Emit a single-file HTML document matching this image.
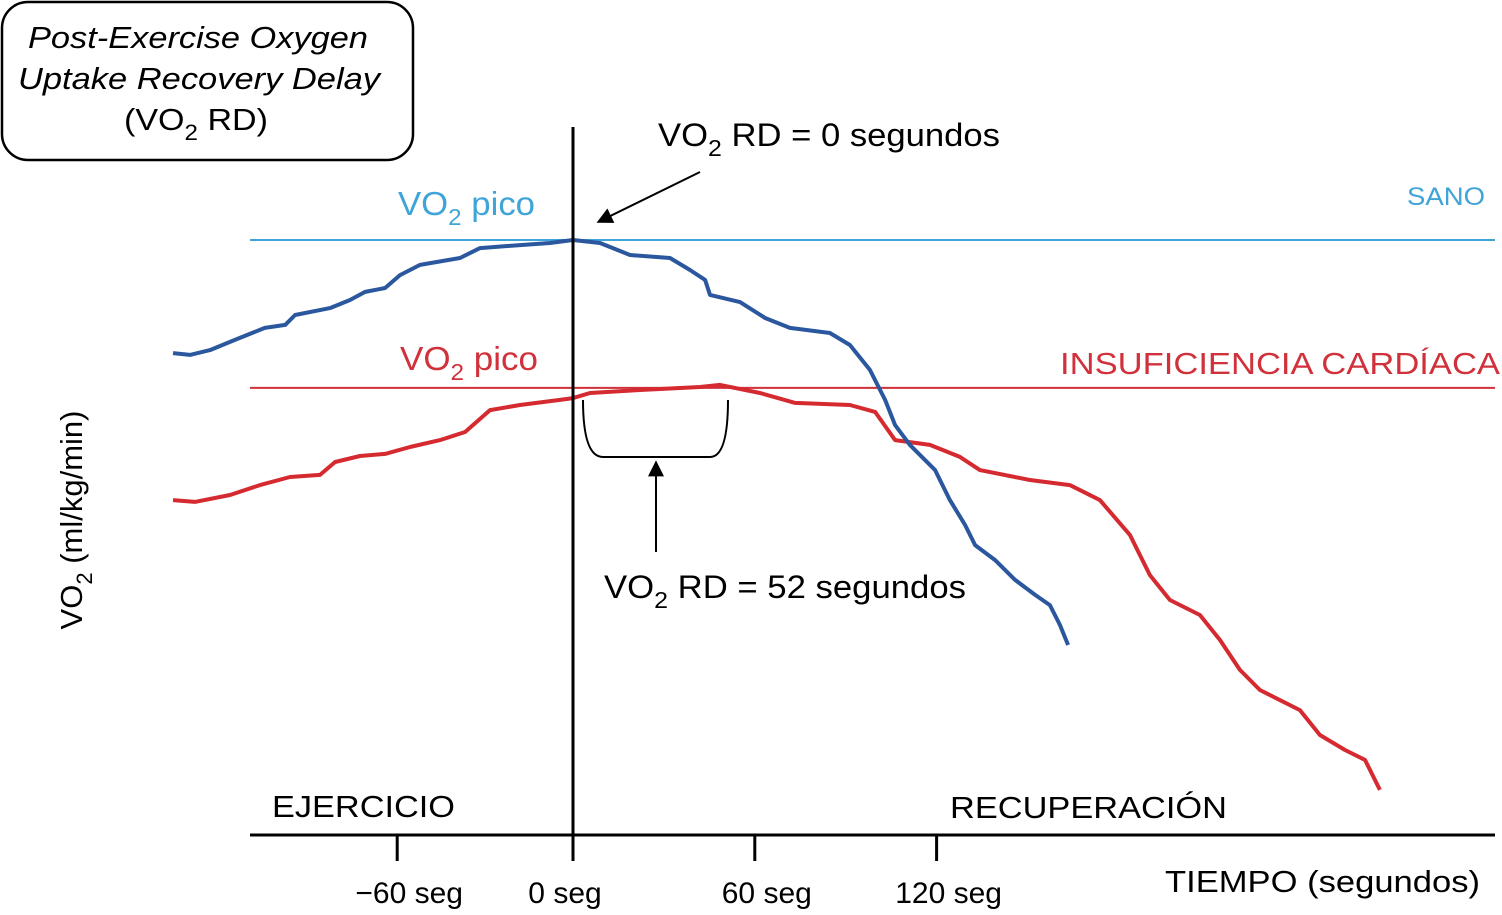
<!DOCTYPE html>
<html><head><meta charset="utf-8"><style>
html,body{margin:0;padding:0;background:#fff;}
svg{display:block;font-family:"Liberation Sans",Arial,sans-serif;}
</style></head><body>
<svg id="chart" width="1502" height="915" viewBox="0 0 1502 915">
<defs><marker id="ah" viewBox="0 0 10 10" refX="9" refY="5" markerWidth="8" markerHeight="8" orient="auto"><path d="M0,0L10,5L0,10z" fill="#000"/></marker></defs>
<g>
<rect x="2" y="2" width="411" height="158" rx="26" fill="#fff" stroke="#000" stroke-width="2.5"/>
<text x="28" y="48" font-size="31" font-style="italic" textLength="340" lengthAdjust="spacingAndGlyphs">Post-Exercise Oxygen</text>
<text x="18" y="89" font-size="31" font-style="italic" textLength="362" lengthAdjust="spacingAndGlyphs">Uptake Recovery Delay</text>
<text x="124" y="130" font-size="31" textLength="144" lengthAdjust="spacingAndGlyphs">(VO<tspan font-size="22" dy="10">2</tspan><tspan dy="-10"> RD)</tspan></text>
</g>
<g id="plot"></g>
<text transform="translate(82,520) rotate(-90)" font-size="31" text-anchor="middle">VO<tspan font-size="22" dy="10">2</tspan><tspan dy="-10"> (ml/kg/min)</tspan></text>
<text x="1165" y="892" font-size="31" textLength="315" lengthAdjust="spacingAndGlyphs">TIEMPO (segundos)</text>
<text x="272" y="817" font-size="31" textLength="183" lengthAdjust="spacingAndGlyphs">EJERCICIO</text>
<text x="950" y="818" font-size="31" textLength="277" lengthAdjust="spacingAndGlyphs">RECUPERACIÓN</text>
<text x="1407" y="205" font-size="25" fill="#3fa4d8" textLength="78" lengthAdjust="spacingAndGlyphs">SANO</text>
<text x="1060" y="374" font-size="31" fill="#d0313a" textLength="440" lengthAdjust="spacingAndGlyphs">INSUFICIENCIA CARDÍACA</text>
<text x="398" y="215" font-size="33" fill="#3fa4d8" textLength="137" lengthAdjust="spacingAndGlyphs">VO<tspan font-size="23" dy="10">2</tspan><tspan dy="-10"> pico</tspan></text>
<text x="400" y="370" font-size="33" fill="#d0313a" textLength="138" lengthAdjust="spacingAndGlyphs">VO<tspan font-size="23" dy="10">2</tspan><tspan dy="-10"> pico</tspan></text>
<text x="658" y="146" font-size="32" textLength="342" lengthAdjust="spacingAndGlyphs">VO<tspan font-size="23" dy="10">2</tspan><tspan dy="-10"> RD = 0 segundos</tspan></text>
<text x="604" y="598" font-size="32" textLength="362" lengthAdjust="spacingAndGlyphs">VO<tspan font-size="23" dy="10">2</tspan><tspan dy="-10"> RD = 52 segundos</tspan></text>
<line x1="700" y1="172" x2="598" y2="222" stroke="#000" stroke-width="2" marker-end="url(#ah)"/>
<line x1="656" y1="552" x2="656" y2="462" stroke="#000" stroke-width="2" marker-end="url(#ah)"/>
<path d="M583,400 Q583,457 603,457 L710,457 Q728,457 728,400" fill="none" stroke="#000" stroke-width="2"/>
</svg>
<script>
const ticks = [-60, 0, 60, 120];
const tickLabels = ["\u221260 seg", "0 seg", "60 seg", "120 seg"];
const blueT = [-132,-126.4,-119.8,-111.6,-101.7,-95,-91.7,-80.2,-73.6,-68.6,-62,-57.1,-50.5,-37.3,-30.7,-17.5,-7.6,0,8.9,18.8,32,38.6,43.6,45.2,55.1,63.4,71.6,84.8,91.4,98,103,106.3,111.2,119.5,124.4,129.4,132.7,139.3,145.9,152.5,157.4,160.7,163.4];
const blueV = [16.23,16.17,16.33,16.67,17.07,17.17,17.5,17.73,18,18.27,18.4,18.83,19.17,19.4,19.73,19.83,19.9,20,19.9,19.5,19.4,19,18.67,18.17,17.93,17.4,17.07,16.9,16.5,15.67,14.67,13.83,13.17,12.33,11.33,10.5,9.83,9.33,8.67,8.17,7.83,7.17,6.5];
const redT = [-132,-124.8,-113.2,-103.3,-93.4,-83.5,-78.5,-70.3,-62,-53.8,-43.9,-35.6,-27.4,-17.5,-4.3,0,5.6,22.1,41.9,48.5,61.7,73.3,91.4,99.7,106.3,117.8,127.7,134.3,150.8,164,173.9,183.8,190.4,197,206.9,213.5,220.1,226.7,239.9,246.5,254.8,261.4,266.3];
const redV = [11.33,11.27,11.5,11.83,12.1,12.17,12.6,12.8,12.87,13.1,13.33,13.6,14.33,14.5,14.67,14.73,14.9,15,15.1,15.17,14.9,14.57,14.5,14.27,13.33,13.17,12.77,12.33,12,11.83,11.33,10.17,8.83,8,7.5,6.67,5.67,5,4.33,3.5,3,2.67,1.67];
const peaks = [20, 15.07];

const NS = "http://www.w3.org/2000/svg";
const xs = t => 573 + t * (t < 0 ? 2.93 : 3.03);
const ys = v => 840 - v * 30;
const g = document.getElementById('plot');
function mk(tag, attrs, parent) {
  const e = document.createElementNS(NS, tag);
  for (const k in attrs) e.setAttribute(k, attrs[k]);
  (parent || g).appendChild(e);
  return e;
}
const peakColors = ["#3fa4d8", "#d0313a"];
peaks.forEach((p, i) => {
  const l = mk('line', {x1: 250, x2: 1495, y1: ys(p), y2: ys(p), stroke: peakColors[i], 'stroke-width': 2});
  
  
});
const xc = t => 573 + t * 3.03;
function curve(T, V, color, name) {
  const d = T.map((t, i) => (i ? 'L' : 'M') + xc(t).toFixed(1) + ',' + ys(V[i]).toFixed(1)).join(' ');
  const p = mk('path', {d: d, fill: 'none', stroke: color, 'stroke-width': 4, 'stroke-linejoin': 'round'});
  
  
}
curve(redT, redV, "#d42a30", 'heart-failure-curve');
curve(blueT, blueV, "#2a579e", 'healthy-curve');
const xa = mk('line', {x1: 250, x2: 1495, y1: 835, y2: 835, stroke: '#000', 'stroke-width': 3});


const va = mk('line', {x1: 573, x2: 573, y1: 127, y2: 835, stroke: '#000', 'stroke-width': 3});


ticks.forEach((t, i) => {
  const tk = mk('line', {x1: xs(t), x2: xs(t), y1: 835, y2: 861, stroke: '#000', 'stroke-width': 3});
  
  
  const tx = mk('text', {x: xs(t) + (t === 0 ? -8 : 12), y: 903, 'font-size': 30, 'text-anchor': 'middle'});
  tx.textContent = tickLabels[i];
  
  
});
</script>
</body></html>
